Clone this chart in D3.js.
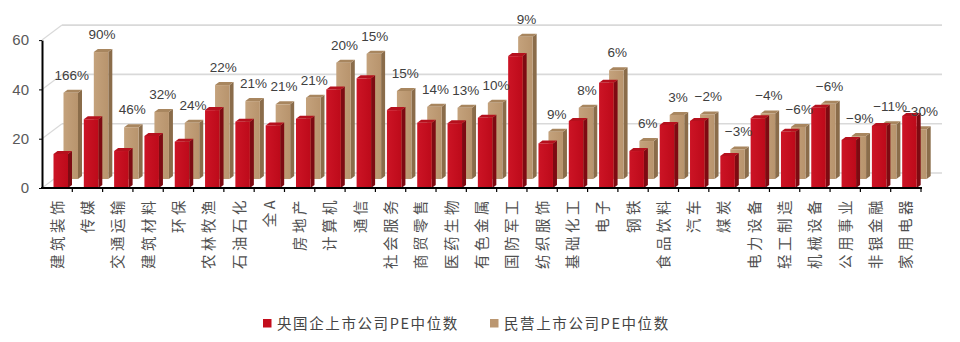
<!DOCTYPE html>
<html>
<head>
<meta charset="utf-8">
<script src="https://cdn.jsdelivr.net/npm/d3@7"></script>
<style>
  html, body { margin: 0; padding: 0; background: #fff; }
  svg { display: block; }
</style>
</head>
<body>
<svg id="chart" width="960" height="342"></svg>
<script>
// Industry categories (SW level-1) plus the whole market
const categories = ["建筑装饰","传媒","交通运输","建筑材料","环保","农林牧渔","石油石化","全A","房地产","计算机",
  "通信","社会服务","商贸零售","医药生物","有色金属","国防军工","纺织服饰","基础化工","电子","钢铁",
  "食品饮料","汽车","煤炭","电力设备","轻工制造","机械设备","公用事业","非银金融","家用电器"];

// Median PE of state-owned listed companies
const soeValues = [13.8, 27.9, 15.0, 21.1, 18.8, 31.6, 26.9, 25.4, 28.1, 40.0,
  44.5, 31.6, 26.5, 26.3, 28.5, 53.5, 18.1, 27.2, 42.7, 15.0,
  25.6, 27.2, 13.0, 28.3, 22.8, 32.6, 19.5, 25.2, 29.2];

// Median PE of private listed companies
const privateValues = [35.0, 51.5, 21.0, 27.2, 22.8, 38.1, 31.6, 30.3, 33.0, 47.2,
  50.8, 35.7, 29.3, 28.9, 30.9, 57.7, 19.2, 28.9, 44.1, 15.4,
  26.0, 26.2, 12.0, 26.6, 21.1, 30.5, 17.4, 22.2, 20.2];

// Premium of private over state-owned median PE
const premiumLabels = ["166%","90%","46%","32%","24%","22%","21%","21%","21%","20%",
  "15%","15%","14%","13%","10%","9%","9%","8%","6%","6%",
  "3%","−2%","−3%","−4%","−6%","−6%","−9%","−11%","−30%"];

const yTicks = [0, 20, 40, 60];
const seriesNames = ["央国企上市公司PE中位数", "民营上市公司PE中位数"];

// ---- layout ----
const svg = d3.select("#chart");
const left = 42, right = 921, base = 188;
const wall = { dx: 20, dy: -15 };      // back wall offset
const row = { dx: 10, dy: -9 };        // second (back) row offset
const depth = { dx: 4, dy: -3 };       // bar depth
const barOffset = 11.5, barW = 14.5;

const x = d3.scaleBand().domain(categories).range([left, right]).paddingInner(0).paddingOuter(0);
const y = d3.scaleLinear().domain([0, 60]).range([base, base - 60 * 2.465]);

const palette = {
  soe: { front: "#c30d1c", side: "#7e0a12", top: "#b5101d" },
  pri: { front: "#bb9771", side: "#8a6c4a", top: "#a8865f" }
};

// gradients for the front faces
const defs = svg.append("defs");
function grad(id, c0, c1) {
  const g = defs.append("linearGradient").attr("id", id).attr("x1", "0").attr("x2", "1").attr("y1", "0").attr("y2", "0");
  g.append("stop").attr("offset", "0").attr("stop-color", c0);
  g.append("stop").attr("offset", "1").attr("stop-color", c1);
}
grad("gSoe", "#cc1425", "#bd0a1a");
grad("gPri", "#c4a27c", "#b8946d");

// ---- back wall gridlines and left wall ----
const grid = svg.append("g");
yTicks.forEach(t => {
  grid.append("line")
    .attr("x1", left + wall.dx).attr("x2", right + wall.dx + 1)
    .attr("y1", y(t) + wall.dy).attr("y2", y(t) + wall.dy)
    .attr("stroke", "#d9d9d9").attr("stroke-width", 1.6);
  grid.append("line")
    .attr("x1", left).attr("x2", left + wall.dx)
    .attr("y1", y(t)).attr("y2", y(t) + wall.dy)
    .attr("stroke", "#d9d9d9").attr("stroke-width", 1.2);
});

// ---- 3D bar drawing ----
function drawBars(values, col, fill, off) {
  const g = svg.append("g");
  categories.forEach((c, i) => {
    const fx = x(c) + barOffset + off.dx;
    const b = base + off.dy;
    const top = y(values[i]) + off.dy;
    g.append("polygon")
      .attr("points", [[fx + barW, top], [fx + barW + depth.dx, top + depth.dy], [fx + barW + depth.dx, b + depth.dy], [fx + barW, b]].join(" "))
      .attr("fill", col.side);
    g.append("polygon")
      .attr("points", [[fx, top], [fx + depth.dx, top + depth.dy], [fx + barW + depth.dx, top + depth.dy], [fx + barW, top]].join(" "))
      .attr("fill", col.top);
    g.append("rect")
      .attr("x", fx).attr("y", top).attr("width", barW).attr("height", b - top)
      .attr("fill", fill);
  });
}
drawBars(privateValues, palette.pri, "url(#gPri)", row);
drawBars(soeValues, palette.soe, "url(#gSoe)", { dx: 0, dy: 0 });

// ---- premium labels above the private bars ----
svg.append("g").selectAll("text").data(categories).join("text")
  .attr("x", (c) => x(c) + barOffset + row.dx + barW / 2 + 1)
  .attr("y", (c, i) => y(privateValues[i]) + row.dy + depth.dy - 10)
  .attr("text-anchor", "middle")
  .attr("font-family", "'Liberation Sans', Arial, sans-serif")
  .attr("font-size", 13.5)
  .attr("fill", "#404040")
  .text((c, i) => premiumLabels[i]);

// ---- axes ----
const yAxis = svg.append("g").attr("transform", `translate(${left},0)`)
  .call(d3.axisLeft(y).tickValues(yTicks).tickSize(3).tickPadding(10).tickSizeOuter(0));
yAxis.select(".domain").attr("stroke", "#000").attr("stroke-width", 2);
yAxis.selectAll(".tick line").attr("stroke", "#000");
yAxis.selectAll("text")
  .attr("font-family", "'Liberation Sans', Arial, sans-serif")
  .attr("font-size", 15).attr("fill", "#595959");

const xAxis = svg.append("g").attr("transform", `translate(0,${base})`);
xAxis.append("line").attr("x1", left - 1).attr("x2", right + 1).attr("y1", 0).attr("y2", 0)
  .attr("stroke", "#000").attr("stroke-width", 2);
xAxis.selectAll(".tk").data(d3.range(1, categories.length + 1)).join("line")
  .attr("x1", i => left + i * x.step()).attr("x2", i => left + i * x.step())
  .attr("y1", 0).attr("y2", 4).attr("stroke", "#000").attr("stroke-width", 1.2);

// vertical category labels, reading bottom to top
svg.append("g").selectAll("text").data(categories).join("text")
  .attr("transform", c => `translate(${x(c) + x.bandwidth() / 2 - 1},197) rotate(-90)`)
  .attr("text-anchor", "end")
  .attr("dominant-baseline", "central")
  .attr("font-family", "'Noto Sans CJK SC', sans-serif")
  .attr("font-size", 14.5)
  .attr("letter-spacing", 3.5)
  .attr("fill", "#505050")
  .text(c => c);

// ---- legend ----
const legend = svg.append("g");
const legendItems = [
  { name: seriesNames[0], color: "#c30d1c", x: 263 },
  { name: seriesNames[1], color: "#bb9771", x: 490 }
];
legendItems.forEach(d => {
  legend.append("rect").attr("x", d.x).attr("y", 319).attr("width", 8.5).attr("height", 8.5).attr("fill", d.color);
  legend.append("text").attr("x", d.x + 14).attr("y", 329)
    .attr("font-family", "'Noto Sans CJK SC', sans-serif")
    .attr("font-size", 14.5)
    .attr("letter-spacing", 1.6)
    .attr("fill", "#444")
    .text(d.name);
});
</script>
</body>
</html>
